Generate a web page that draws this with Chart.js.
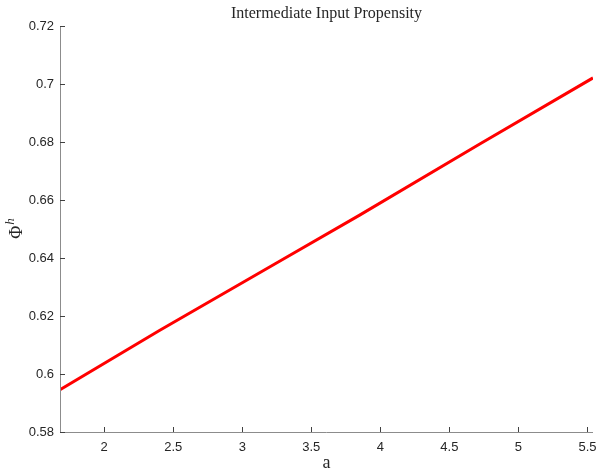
<!DOCTYPE html>
<html>
<head>
<meta charset="utf-8">
<script src="https://cdn.jsdelivr.net/npm/chart.js@4"></script>
<style>
html,body{margin:0;padding:0;background:#fff;}
#wrap{width:598px;height:471px;position:relative;}
</style>
</head>
<body>
<div id="wrap"><canvas id="c" width="598" height="471"></canvas></div>
<script>
const xValues = [1.68, 2.40, 3.27, 3.85, 4.72, 5.54];
const phiValues = [0.5946, 0.6150, 0.6389, 0.6548, 0.6793, 0.7021];
const xTicks = [2, 2.5, 3, 3.5, 4, 4.5, 5, 5.5];
const yTicks = [0.58, 0.6, 0.62, 0.64, 0.66, 0.68, 0.7, 0.72];
const titleText = 'Intermediate Input Propensity';
const xLabel = 'a';

const points = xValues.map((x, i) => ({x: x, y: phiValues[i]}));

const decor = {
  id: 'decor',
  afterDraw(chart) {
    const ctx = chart.ctx, a = chart.chartArea;
    const xs = chart.scales.x, ys = chart.scales.y;
    ctx.save();
    ctx.strokeStyle = '#8c8c8c';
    ctx.lineWidth = 1;
    ctx.beginPath();
    ctx.moveTo(a.left + 0.5, a.top);
    ctx.lineTo(a.left + 0.5, a.bottom + 0.5);
    ctx.lineTo(a.right, a.bottom + 0.5);
    ctx.stroke();
    ctx.strokeStyle = '#404040';
    ctx.beginPath();
    xTicks.forEach(v => {
      const px = Math.round(xs.getPixelForValue(v)) + 0.5;
      ctx.moveTo(px, a.bottom);
      ctx.lineTo(px, a.bottom - 5);
    });
    yTicks.forEach(v => {
      const py = Math.round(ys.getPixelForValue(v)) + 0.5;
      ctx.moveTo(a.left, py);
      ctx.lineTo(a.left + 5, py);
    });
    ctx.stroke();
    ctx.fillStyle = '#262626';
    ctx.font = '16px "Liberation Serif", serif';
    ctx.textAlign = 'center';
    ctx.textBaseline = 'alphabetic';
    ctx.fillText(titleText, (a.left + a.right) / 2, 18);
    ctx.font = '18px "Liberation Serif", serif';
    ctx.fillText(xLabel, (a.left + a.right) / 2, 468);
    ctx.translate(22, (a.top + a.bottom) / 2);
    ctx.rotate(-Math.PI / 2);
    ctx.textAlign = 'left';
    ctx.font = '18px "Liberation Serif", serif';
    const w1 = ctx.measureText('Φ').width;
    ctx.font = 'italic 13px "Liberation Serif", serif';
    const w2 = ctx.measureText('h').width;
    const start = -(w1 + w2) / 2;
    ctx.font = '18px "Liberation Serif", serif';
    ctx.fillText('Φ', start, 0);
    ctx.font = 'italic 13px "Liberation Serif", serif';
    ctx.fillText('h', start + w1 + 1, -8);
    ctx.restore();
  }
};

new Chart(document.getElementById('c'), {
  type: 'scatter',
  data: {
    datasets: [{
      data: points,
      showLine: true,
      borderColor: '#ff0000',
      backgroundColor: '#ff0000',
      borderWidth: 3,
      pointRadius: 0,
      tension: 0
    }]
  },
  options: {
    responsive: false,
    animation: false,
    devicePixelRatio: 1,
    layout: {padding: {top: 26, right: 5, bottom: 0, left: 0}},
    plugins: {legend: {display: false}, title: {display: false}, tooltip: {enabled: false}},
    scales: {
      x: {
        type: 'linear',
        min: 1.68,
        max: 5.54,
        afterFit(s) { s.height = 39; s.paddingLeft = 0; s.paddingRight = 0; },
        afterBuildTicks(s) { s.ticks = xTicks.map(v => ({value: v})); },
        grid: {display: false, drawTicks: false},
        border: {display: false},
        ticks: {
          color: '#262626',
          font: {family: '"Liberation Sans", Arial, sans-serif', size: 13},
          padding: 8,
          maxRotation: 0,
          callback: v => String(v)
        }
      },
      y: {
        type: 'linear',
        min: 0.58,
        max: 0.72,
        afterFit(s) { s.width = 60; s.paddingTop = 0; s.paddingBottom = 0; },
        afterBuildTicks(s) { s.ticks = yTicks.map(v => ({value: v})); },
        grid: {display: false, drawTicks: false},
        border: {display: false},
        ticks: {
          color: '#262626',
          font: {family: '"Liberation Sans", Arial, sans-serif', size: 13},
          padding: 6,
          callback: v => String(parseFloat(v.toFixed(2)))
        }
      }
    }
  },
  plugins: [decor]
});
</script>
</body>
</html>
